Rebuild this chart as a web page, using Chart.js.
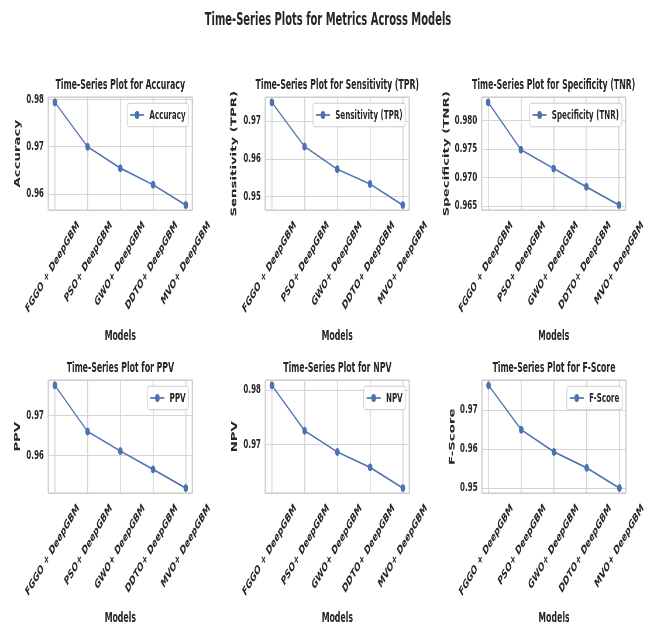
<!DOCTYPE html>
<html>
<head>
<meta charset="utf-8">
<title>Time-Series Plots for Metrics Across Models</title>
<script src="https://cdn.jsdelivr.net/npm/chart.js@4.4.1/dist/chart.umd.min.js"></script>
<style>
    html, body { margin: 0; padding: 0; background: #fff; overflow: hidden; }
    #figure { position: absolute; left: 0; top: 0; height: 628px; transform-origin: 0 0; }
    #figure canvas { position: absolute; }
    #suptitle {
        position: absolute; left: 0; right: 0; top: 7.6px;
        font-family: 'DejaVu Sans', sans-serif; font-weight: bold; font-size: 17px;
        line-height: 22px; text-align: center; color: #262626;
    }
</style>
</head>
<body>
<div id="figure"><div id="suptitle">Time-Series Plots for Metrics Across Models</div></div>
<script>
const models = ['FGGO + DeepGBM', 'PSO+ DeepGBM', 'GWO+ DeepGBM', 'DDTO+ DeepGBM', 'MVO+ DeepGBM'];

const accuracy    = [0.9794, 0.9700, 0.9655, 0.9620, 0.9577];
const sensitivity = [0.9750, 0.9633, 0.9573, 0.9534, 0.9478];
const specificity = [0.9832, 0.9749, 0.9716, 0.9684, 0.9652];
const ppv         = [0.9776, 0.9660, 0.9611, 0.9565, 0.9518];
const npv         = [0.9809, 0.9726, 0.9687, 0.9659, 0.9621];
const fScore      = [0.9764, 0.9650, 0.9593, 0.9552, 0.9500];

const accuracyTicks    = ['0.96', '0.97', '0.98'];
const sensitivityTicks = ['0.95', '0.96', '0.97'];
const specificityTicks = ['0.965', '0.970', '0.975', '0.980'];
const ppvTicks         = ['0.96', '0.97'];
const npvTicks         = ['0.97', '0.98'];
const fScoreTicks      = ['0.95', '0.96', '0.97'];

const metricNames  = ['Accuracy', 'Sensitivity (TPR)', 'Specificity (TNR)', 'PPV', 'NPV', 'F-Score'];
const metricValues = [accuracy, sensitivity, specificity, ppv, npv, fScore];
const metricTicks  = [accuracyTicks, sensitivityTicks, specificityTicks, ppvTicks, npvTicks, fScoreTicks];

// the original figure is squeezed horizontally, so draw it wide and scale it down in x
const SQUEEZE = 0.585;
const LINE_COLOR = '#4c72b0';
const TEXT_COLOR = '#262626';
const GRID_COLOR = '#d5d5d5';

// plot boxes, in page pixels
const colLeft = [48.5, 265.2, 481.7];
const rowTop = [97, 380];
const plotW = 144, plotH = 113;
const xTitleY = [336.5, 618];
const yTitleX = [18.3, 234.5, 447, 18.3, 235, 452.5];

const titleSize = 13.3, tickSize = 12.2, xTitleSize = 13.3, yTitleSize = 13.3;
const titleAbove = 11.25;
const titleBlock = titleAbove + titleSize * 0.6 + 1;

Chart.defaults.font.family = "'DejaVu Sans', sans-serif";
Chart.defaults.color = TEXT_COLOR;

const figure = document.getElementById('figure');
figure.style.width = (656 / SQUEEZE) + 'px';
figure.style.transform = 'scaleX(' + SQUEEZE + ')';

// light frame round the plot area
const framePlugin = {
    id: 'frame',
    beforeDatasetsDraw(chart) {
        const {ctx, chartArea: a} = chart;
        ctx.save();
        ctx.strokeStyle = '#cccccc';
        ctx.lineWidth = 1.3;
        ctx.beginPath();
        ctx.moveTo(a.left, a.top); ctx.lineTo(a.right, a.top);
        ctx.moveTo(a.left, a.bottom); ctx.lineTo(a.right, a.bottom);
        ctx.stroke();
        ctx.lineWidth = 1.3 / SQUEEZE;
        ctx.beginPath();
        ctx.moveTo(a.left, a.top); ctx.lineTo(a.left, a.bottom);
        ctx.moveTo(a.right, a.top); ctx.lineTo(a.right, a.bottom);
        ctx.stroke();
        ctx.restore();
    }
};

// subplot title centred over the plot area (not the whole canvas)
const titlePlugin = {
    id: 'panelTitle',
    afterDraw(chart, args, opts) {
        const {ctx, chartArea: a} = chart;
        ctx.save();
        ctx.font = 'bold ' + titleSize + "px 'DejaVu Sans', sans-serif";
        ctx.fillStyle = TEXT_COLOR;
        ctx.textAlign = 'center';
        ctx.textBaseline = 'middle';
        ctx.fillText(opts.text, (a.left + a.right) / 2, a.top - titleAbove);
        ctx.restore();
    }
};

// matplotlib-like legend box in the upper right corner
const legendPlugin = {
    id: 'boxLegend',
    afterDraw(chart) {
        const {ctx, chartArea: a} = chart;
        const ds = chart.data.datasets[0];
        ctx.save();
        ctx.font = 'bold ' + tickSize + "px 'DejaVu Sans', sans-serif";
        const tw = ctx.measureText(ds.label).width;
        const w = 5 + 24 + 9 + tw + 5, h = 23.5;
        const x = a.right - 6.5 - w, y = a.top + 6;
        ctx.beginPath();
        ctx.roundRect(x, y, w, h, 4);
        ctx.fillStyle = 'rgba(255,255,255,0.85)';
        ctx.fill();
        ctx.strokeStyle = '#cccccc';
        ctx.lineWidth = 1.2;
        ctx.stroke();
        const cy = y + h / 2;
        ctx.strokeStyle = ds.borderColor;
        ctx.lineWidth = 1.7;
        ctx.beginPath();
        ctx.moveTo(x + 5, cy); ctx.lineTo(x + 29, cy);
        ctx.stroke();
        ctx.fillStyle = ds.borderColor;
        ctx.beginPath();
        ctx.arc(x + 17, cy, 4, 0, Math.PI * 2);
        ctx.fill();
        ctx.fillStyle = TEXT_COLOR;
        ctx.textBaseline = 'middle';
        ctx.fillText(ds.label, x + 38, cy + 0.5);
        ctx.restore();
    }
};

function makePanel(i) {
    const col = i % 3, row = Math.floor(i / 3);
    const values = metricValues[i];
    const tickLabels = metricTicks[i];
    const lo = Math.min(...values), hi = Math.max(...values);
    const margin = (hi - lo) * 0.05;

    // y axis box width puts the axis title where it is in the picture
    const yw = (colLeft[col] - yTitleX[i]) / SQUEEZE + yTitleSize * 0.6;
    const plotWpre = plotW / SQUEEZE;
    const xh = xTitleY[row] + xTitleSize * 0.6 - (rowTop[row] + plotH);
    const width = Math.ceil(yw + plotWpre + 50);
    const height = Math.ceil(titleBlock + plotH + xh);

    const canvas = document.createElement('canvas');
    canvas.width = width;
    canvas.height = height;
    canvas.style.left = (colLeft[col] / SQUEEZE - yw) + 'px';
    canvas.style.top = (rowTop[row] - titleBlock) + 'px';
    figure.appendChild(canvas);

    new Chart(canvas.getContext('2d'), {
        type: 'line',
        data: {
            datasets: [{
                label: metricNames[i],
                data: values.map((v, j) => ({x: j, y: v})),
                borderColor: LINE_COLOR,
                backgroundColor: LINE_COLOR,
                borderWidth: 1.7,
                pointRadius: 3.5,
                pointHoverRadius: 3.5,
                pointBorderWidth: 1,
                pointBorderColor: LINE_COLOR,
                pointBackgroundColor: LINE_COLOR,
                tension: 0
            }]
        },
        options: {
            responsive: false,
            animation: false,
            devicePixelRatio: 1,
            layout: {
                padding: {left: 0, top: titleBlock, right: width - yw - plotWpre, bottom: height - titleBlock - plotH - xh}
            },
            plugins: {
                legend: {display: false},
                tooltip: {enabled: false},
                title: {display: false},
                panelTitle: {text: 'Time-Series Plot for ' + metricNames[i]}
            },
            scales: {
                x: {
                    type: 'linear',
                    bounds: 'data',
                    min: -0.2,
                    max: models.length - 0.8,
                    afterBuildTicks: s => { s.ticks = models.map((m, j) => ({value: j})); },
                    afterFit: s => { s.height = xh; s.paddingLeft = 0; s.paddingRight = 0; },
                    ticks: {
                        autoSkip: false,
                        minRotation: 45,
                        maxRotation: 45,
                        labelOffset: 40,
                        padding: 8,
                        font: {size: tickSize, weight: 'bold'},
                        color: TEXT_COLOR,
                        callback: v => models[v]
                    },
                    grid: {color: GRID_COLOR, lineWidth: 1.7, drawTicks: false},
                    border: {display: false},
                    title: {
                        display: true,
                        text: 'Models',
                        font: {size: xTitleSize, weight: 'bold'},
                        color: TEXT_COLOR,
                        padding: 0
                    }
                },
                y: {
                    type: 'linear',
                    bounds: 'data',
                    min: lo - margin,
                    max: hi + margin,
                    afterBuildTicks: s => { s.ticks = tickLabels.map(t => ({value: parseFloat(t)})); },
                    afterFit: s => { s.width = yw; s.paddingTop = 0; s.paddingBottom = 0; },
                    ticks: {
                        padding: 7.5,
                        font: {size: tickSize, weight: 'bold'},
                        color: TEXT_COLOR,
                        callback: (v, j) => tickLabels[j]
                    },
                    grid: {color: GRID_COLOR, lineWidth: 1, drawTicks: false},
                    border: {display: false},
                    title: {
                        display: true,
                        text: metricNames[i],
                        font: {size: yTitleSize, weight: 'bold'},
                        color: TEXT_COLOR,
                        padding: 0
                    }
                }
            }
        },
        plugins: [framePlugin, titlePlugin, legendPlugin]
    });
}

metricNames.forEach((name, i) => makePanel(i));
</script>
</body>
</html>
